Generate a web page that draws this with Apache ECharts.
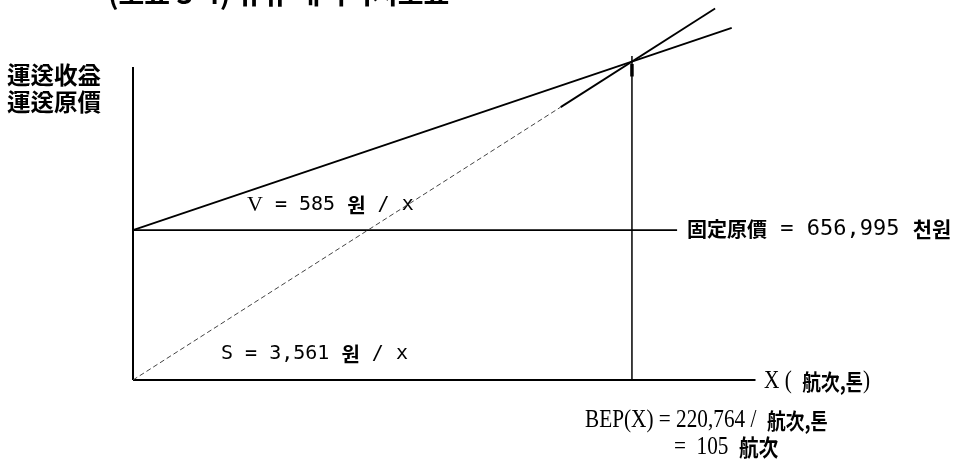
<!DOCTYPE html>
<html>
<head>
<meta charset="utf-8">
<script src="https://cdn.jsdelivr.net/npm/echarts@6/dist/echarts.min.js"></script>
<style>
  html, body { margin: 0; padding: 0; background: #fff; }
  #chart { width: 959px; height: 462px; }
</style>
</head>
<body>
<div id="chart"></div>
<script>
// 데이터 (x: 航次, y: 천원)
const xMax = 131
const yMax = 1630000
const fixedCost = 656995
const bepX = 105
const bepY = 1395000
// 비용선 V (고정비 + 변동비)
const costX = [0, 126]
const costY = [fixedCost, 1542600]
// 수익선 S (아래쪽은 흐린 점선, 위쪽은 실선)
const revLowX = [0, 90]
const revLowY = [0, 1195700]
const revHighX = [90, 122.5]
const revHighY = [1195700, 1627500]
// 고정원가선
const fixedX = [0, 114.5]
// 축선
const yAxisTop = 1371500
const bepTop = 1420000
const bepMarkY = [1385000, 1330000]

const serif = '"Liberation Serif", serif'
const mono = '"DejaVu Sans Mono", monospace'
const cjk = '"Noto Sans CJK KR", sans-serif'

function pts(xs, ys) {
  return xs.map((x, i) => [x, ys[i]])
}

function seg(data, style) {
  return {
    type: 'line',
    data: data,
    symbol: 'none',
    silent: true,
    animation: false,
    lineStyle: Object.assign({ color: '#000', width: 1.5 }, style || {})
  }
}

const chart = echarts.init(document.getElementById('chart'))
const option = {
  backgroundColor: '#fff',
  animation: false,
  grid: { left: 133, right: 203.5, top: 8, bottom: 82 },
  xAxis: {
    type: 'value', min: 0, max: xMax,
    axisLine: { show: false }, axisTick: { show: false },
    axisLabel: { show: false }, splitLine: { show: false }
  },
  yAxis: {
    type: 'value', min: 0, max: yMax,
    axisLine: { show: false }, axisTick: { show: false },
    axisLabel: { show: false }, splitLine: { show: false }
  },
  series: [
    // 축
    seg(pts([0, 0], [0, yAxisTop]), { width: 2 }),
    seg(pts([0, xMax], [0, 0]), { width: 2 }),
    // 고정원가
    seg(pts(fixedX, [fixedCost, fixedCost]), { width: 1.8 }),
    // BEP 수직선
    seg(pts([bepX, bepX], [0, bepTop]), { width: 1.5 }),
    seg(pts([bepX, bepX], bepMarkY), { width: 3.5 }),
    // 비용선 V
    seg(pts(costX, costY), { width: 1.8 }),
    // 수익선 S
    seg(pts(revLowX, revLowY), { width: 1, color: '#444', type: [5, 3] }),
    seg(pts(revHighX, revHighY), { width: 1.8 })
  ],
  graphic: [
    {
      type: 'text', left: 108, top: -21,
      style: { text: '(도표 3-4) 유휴 대비리지도표', font: 'bold 28px ' + cjk, fill: '#000' }
    },
    {
      type: 'text', left: 7, top: 62,
      style: { text: '運送收益\n運送原價', font: 'bold 23.5px ' + cjk, lineHeight: 27, fill: '#000' }
    },
    {
      type: 'text', left: 247, top: 194,
      style: {
        text: '{v|V}{a| = 585 }{k|원}{a| / x}',
        rich: {
          v: { font: '22px ' + serif, fill: '#000' },
          a: { font: '20px ' + mono, fill: '#000' },
          k: { font: 'bold 20px ' + cjk, fill: '#000' }
        }
      }
    },
    {
      type: 'text', left: 221, top: 344,
      style: {
        text: '{a|S = 3,561 }{k|원}{a| / x}',
        rich: {
          a: { font: '20px ' + mono, fill: '#000' },
          k: { font: 'bold 20px ' + cjk, fill: '#000' }
        }
      }
    },
    {
      type: 'text', left: 687, top: 218,
      style: {
        text: '{k|固定原價}{a| = 656,995 }{h|천원}',
        rich: {
          k: { font: 'bold 20px ' + cjk, fill: '#000' },
          a: { font: '22px ' + mono, fill: '#000' },
          h: { font: 'bold 21px ' + cjk, fill: '#000' }
        }
      }
    },
    {
      type: 'text', left: 764, top: 369, scaleX: 0.85,
      style: {
        text: '{a|X (  }{k|航次,톤}{a|)}',
        rich: {
          a: { font: '25px ' + serif, fill: '#000' },
          k: { font: 'bold 22px ' + cjk, fill: '#000' }
        }
      }
    },
    {
      type: 'text', left: 585, top: 408, scaleX: 0.85,
      style: {
        text: '{a|BEP(X) = 220,764 /  }{k|航次,톤}',
        rich: {
          a: { font: '25px ' + serif, fill: '#000' },
          k: { font: 'bold 22px ' + cjk, fill: '#000' }
        }
      }
    },
    {
      type: 'text', left: 674, top: 435, scaleX: 0.85,
      style: {
        text: '{a|=  105  }{k|航次}',
        rich: {
          a: { font: '25px ' + serif, fill: '#000' },
          k: { font: 'bold 23px ' + cjk, fill: '#000' }
        }
      }
    }
  ]
}
chart.setOption(option)
</script>
</body>
</html>
